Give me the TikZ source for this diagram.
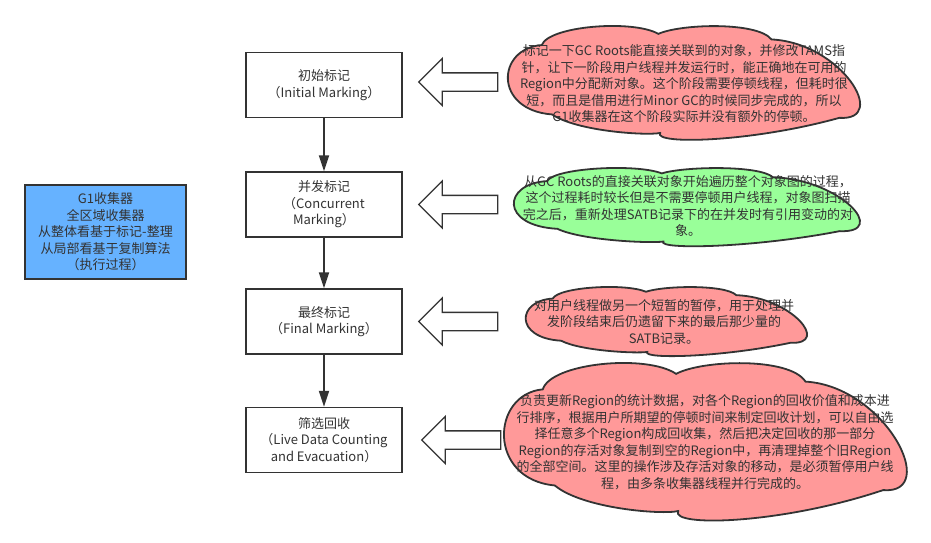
\documentclass[tikz,border=0pt]{standalone}
\usepackage{fontspec}
\setmainfont{Noto Sans CJK SC}
\usepackage{tikz}
\usetikzlibrary{arrows.meta,shapes.arrows}
\usepackage{xcolor}
\definecolor{linegray}{HTML}{333333}
\definecolor{stageblue}{HTML}{66B2FF}
\definecolor{notepink}{HTML}{FF9999}
\definecolor{notegreen}{HTML}{99FF99}
\tikzset{pics/puff/.style={code={
  \draw [line width=1.8pt, draw=linegray, fill=#1] (0.10,0.17)
    .. controls (0.12,0.00) and (0.36,-0.06) .. (0.435,0.07)
    .. controls (0.50,-0.02) and (0.72,-0.04) .. (0.76,0.12)
    .. controls (0.96,0.15) and (1.10,0.85) .. (0.955,0.82)
    .. controls (0.70,1.04) and (0.42,1.06) .. (0.44,0.955)
    .. controls (0.40,0.98) and (0.20,0.94) .. (0.13,0.79)
    .. controls (-0.04,0.75) and (-0.03,0.20) .. (0.10,0.17) -- cycle;}}}

\begin{document}
\begin{tikzpicture}[x=1pt,y=-1pt,
    every node/.style={text=linegray,font=\fontsize{13pt}{16.5pt}\selectfont},
    stage/.style={draw=linegray,line width=1.5pt,fill=white,minimum width=156pt,minimum height=65pt,align=center,inner sep=0pt},
    note/.style={align=center,inner sep=0pt},
    hollow/.style={single arrow,draw=linegray,fill=white,line width=1.3pt,shape border rotate=180,
      minimum height=79pt,single arrow head extend=14.5pt,single arrow tip angle=90,inner xsep=0pt,inner ysep=8.5pt},
    flow/.style={-{Triangle[length=16pt,width=10pt]},draw=linegray,line width=2pt}]
    \fill [white] (0,0) rectangle (931,543);
    \useasboundingbox (0,0) rectangle (931,543);
    % G1 BOX
    \node [stage,fill=stageblue,minimum width=161pt,minimum height=94pt] (g1) at (105.5,232)
      {G1收集器\\全区域收集器\\从整体看基于标记-整理\\从局部看基于复制算法\\（执行过程）};
    % STAGES
    \node [stage] (b1) at (324,85) {初始标记\\（Initial Marking）};
    \node [stage] (b2) at (324,204.5) {并发标记\\（Concurrent\\Marking）};
    \node [stage] (b3) at (324,321.5) {最终标记\\（Final Marking）};
    \node [stage] (b4) at (324,440) {筛选回收\\（Live Data Counting\\and Evacuation）};
    \foreach \a/\b in {b1/b2,b2/b3,b3/b4}
      \draw [flow] (\a) -- (\b);
    % HOLLOW ARROWS
    \node [hollow,anchor=tip] (h1) at ([xshift=15pt,yshift=3pt]b1.east) {};
    \node [hollow,anchor=tip] (h2) at ([xshift=15pt]b2.east) {};
    \node [hollow,anchor=tip] (h3) at ([xshift=15pt]b3.east) {};
    \node [hollow,anchor=tip] (h4) at ([xshift=18pt]b4.east) {};
    % CLOUDS
    \begin{scope}[shift={(507,26)},xscale=348,yscale=112] \pic [transform shape] {puff=notepink}; \end{scope}
    \begin{scope}[shift={(513,168)},xscale=342,yscale=77] \pic [transform shape] {puff=notegreen}; \end{scope}
    \begin{scope}[shift={(525,287)},xscale=278,yscale=68] \pic [transform shape] {puff=notepink}; \end{scope}
    \begin{scope}[shift={(503,363)},xscale=398,yscale=155] \pic [transform shape] {puff=notepink}; \end{scope}
    % NOTES
    \node [note] (t1) at (684,84) {标记一下GC Roots能直接关联到的对象，并修改TAMS指\\针，让下一阶段用户线程并发运行时，能正确地在可用的\\Region中分配新对象。这个阶段需要停顿线程，但耗时很\\短，而且是借用进行Minor GC的时候同步完成的，所以\\G1收集器在这个阶段实际并没有额外的停顿。};
    \node [note] (t2) at (688,206) {从GC Roots的直接关联对象开始遍历整个对象图的过程，\\这个过程耗时较长但是不需要停顿用户线程，对象图扫描\\完之后，重新处理SATB记录下的在并发时有引用变动的对\\象。};
    \node [note] (t3) at (664,322) {对用户线程做另一个短暂的暂停，用于处理并\\发阶段结束后仍遗留下来的最后那少量的\\SATB记录。};
    \node [note] (t4) at (705,442) {负责更新Region的统计数据，对各个Region的回收价值和成本进\\行排序，根据用户所期望的停顿时间来制定回收计划，可以自由选\\择任意多个Region构成回收集，然后把决定回收的那一部分\\Region的存活对象复制到空的Region中，再清理掉整个旧Region\\的全部空间。这里的操作涉及存活对象的移动，是必须暂停用户线\\程，由多条收集器线程并行完成的。};
\end{tikzpicture}
\end{document}
